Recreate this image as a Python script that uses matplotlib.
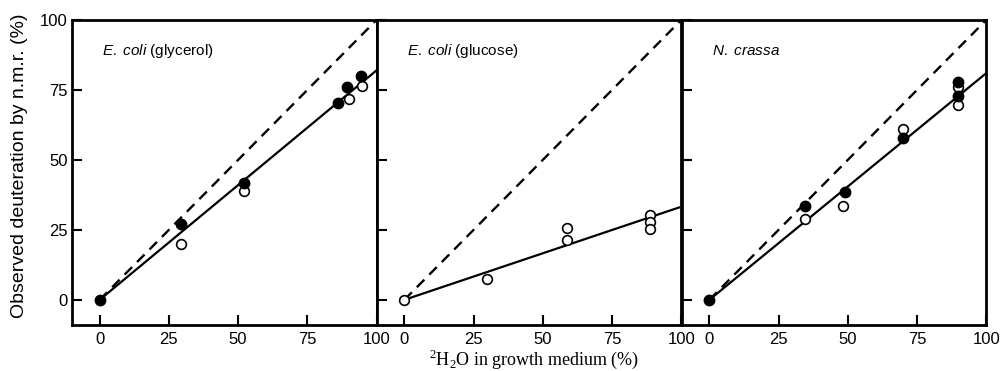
import matplotlib
matplotlib.use('Agg')
import matplotlib.pyplot as plt

plt.rcParams['font.family'] = 'Liberation Sans'
plt.rcParams['mathtext.fontset'] = 'custom'
plt.rcParams['mathtext.rm'] = 'Liberation Serif'
plt.rcParams['mathtext.it'] = 'Liberation Sans:italic'

#### Data (x = 2H2O in medium %, y = observed deuteration %)

titles = [r'$\mathit{E.\ coli}$ (glycerol)', r'$\mathit{E.\ coli}$ (glucose)', r'$\mathit{N.\ crassa}$']

# E. coli (glycerol)
glyc_filled_x = [0, 29.3, 52, 86, 89.4, 94.4]
glyc_filled_y = [0, 27.2, 41.8, 70.5, 76, 80]
glyc_open_x = [29.3, 52.1, 90, 94.8]
glyc_open_y = [19.8, 38.8, 71.8, 76.4]
glyc_fit_x = [0, 100]
glyc_fit_y = [0, 82]

# E. coli (glucose)
gluc_filled_x = []
gluc_filled_y = []
gluc_open_x = [0, 29.8, 58.9, 58.9, 88.8, 88.8, 88.8]
gluc_open_y = [0, 7.6, 25.6, 21.3, 30.3, 27.7, 25.2]
gluc_fit_x = [0, 99.2]
gluc_fit_y = [0, 33]

# N. crassa
ncr_filled_x = [0, 34.6, 48.9, 70, 89.9, 89.9]
ncr_filled_y = [0, 33.6, 38.4, 57.7, 78, 73]
ncr_open_x = [34.6, 48.4, 69.9, 89.9, 89.9]
ncr_open_y = [28.8, 33.4, 61.1, 76.2, 69.6]
ncr_fit_x = [0, 100]
ncr_fit_y = [0, 81]

# theoretical (complete deuteration)
ideal_x = [0, 100]
ideal_y = [0, 100]

ticks = [0, 25, 50, 75, 100]

panels = [
	(glyc_filled_x, glyc_filled_y, glyc_open_x, glyc_open_y, glyc_fit_x, glyc_fit_y),
	(gluc_filled_x, gluc_filled_y, gluc_open_x, gluc_open_y, gluc_fit_x, gluc_fit_y),
	(ncr_filled_x, ncr_filled_y, ncr_open_x, ncr_open_y, ncr_fit_x, ncr_fit_y),
]
lefts = [0.072, 0.3767, 0.6817]

fig = plt.figure(figsize=(10, 3.71), dpi=100)

for k, (fx, fy, ox, oy, lx, ly) in enumerate(panels):
	ax = fig.add_axes([lefts[k], 0.124, 0.3045, 0.822])
	ax.plot(ideal_x, ideal_y, color='black', linewidth=1.7, linestyle=(0, (4.5, 3)), zorder=2)
	ax.plot(lx, ly, color='black', linewidth=1.6, zorder=2)
	ax.plot(ox, oy, linestyle='none', marker='o', markersize=7, markerfacecolor='white',
			markeredgecolor='black', markeredgewidth=1.2, zorder=3)
	ax.plot(fx, fy, linestyle='none', marker='o', markersize=7.5, color='black', zorder=4)
	ax.set_xlim(-10, 100)
	ax.set_ylim(-9, 100)
	ax.set_xticks(ticks)
	ax.set_yticks(ticks)
	ax.tick_params(direction='in', length=7, width=1.5, labelsize=12, top=False, right=False)
	ax.tick_params(axis='x', pad=5)
	ax.tick_params(axis='y', pad=3)
	if k > 0:
		ax.set_yticklabels([])
	for s in ax.spines.values():
		s.set_linewidth(2)
	ax.text(0.1, 0.9, titles[k], transform=ax.transAxes, fontsize=11, ha='left', va='center')

fig.text(0.02, 0.552, 'Observed deuteration by n.m.r. (%)', rotation=90, fontsize=14,
		 ha='center', va='center')
fig.text(0.534, 0.03, r'$^{2}$H$_{2}$O in growth medium (%)', fontsize=13,
		 family='Liberation Serif', ha='center', va='center')

fig.savefig('out.png', dpi=100)
